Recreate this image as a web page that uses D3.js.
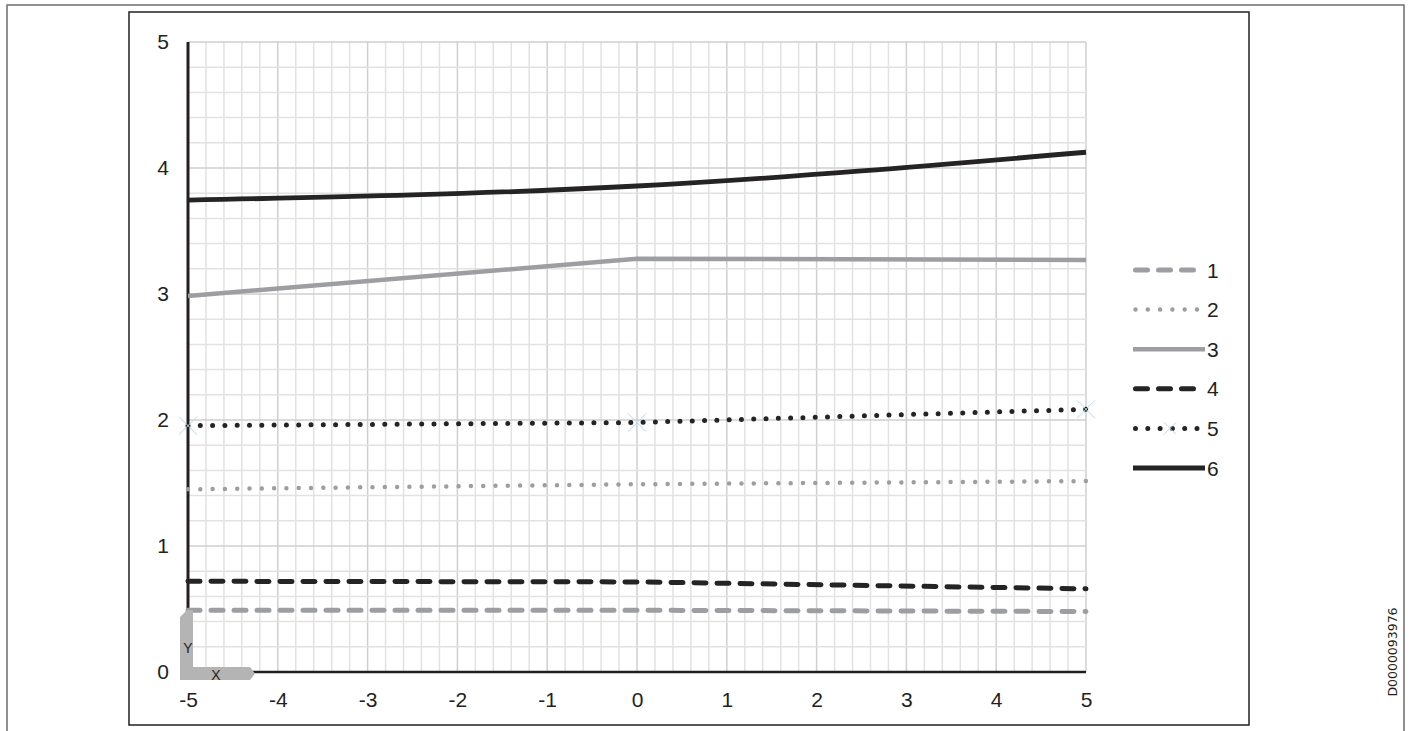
<!DOCTYPE html>
<html><head><meta charset="utf-8">
<script src="https://cdn.jsdelivr.net/npm/d3@7"></script>
<style>body{margin:0;background:#fff}svg{display:block}</style>
</head><body>
<svg id="c" width="1413" height="731"></svg>
<script>
const xValues = [-5, 0, 5];
const series1 = [0.49, 0.49, 0.48];
const series2 = [1.45, 1.49, 1.515];
const series3 = [2.985, 3.28, 3.27];
const series4 = [0.72, 0.715, 0.66];
const series5 = [1.955, 1.98, 2.085];
const series6 = [3.745, 3.857, 4.125];
const seriesNames = ["1", "2", "3", "4", "5", "6"];
const xTicks = [-5, -4, -3, -2, -1, 0, 1, 2, 3, 4, 5];
const yTicks = [0, 1, 2, 3, 4, 5];
const docCode = "D0000093976";

const allSeries = [series1, series2, series3, series4, series5, series6];
const gray = "#9d9ea1", dark = "#262324";
const styles = [
  {color: gray, dash: "12,11", w: 5, curve: d3.curveLinear},
  {color: gray, dash: "0,12.3", w: 4.5, curve: d3.curveLinear},
  {color: gray, dash: null, w: 4.5, curve: d3.curveLinear},
  {color: dark, dash: "12,11", w: 5, curve: d3.curveLinear},
  {color: dark, dash: "0,12.3", w: 5, curve: d3.curveLinear},
  {color: dark, dash: null, w: 4.8, curve: d3.curveMonotoneX}
];
const FONT = "'Liberation Sans', Arial, sans-serif";

const svg = d3.select("#c");
const x = d3.scaleLinear().domain([-5, 5]).range([188, 1086]);
const y = d3.scaleLinear().domain([0, 5]).range([672, 42]);

// frames
svg.append("path").attr("d", "M7,740V5H1404V740").attr("fill", "none").attr("stroke", "#6d6d6d").attr("stroke-width", 1.5);
svg.append("rect").attr("x", 129).attr("y", 12).attr("width", 1120).attr("height", 713)
  .attr("fill", "none").attr("stroke", "#231f20").attr("stroke-width", 1.5);

// grid
const minorX = d3.range(-5, 5.001, 0.2), minorY = d3.range(0, 5.001, 0.2);
const g = svg.append("g");
const isMajor = d => Math.abs(d - Math.round(d)) < 1e-6;
g.selectAll(".mx").data(minorX).join("line")
  .attr("x1", d => x(d)).attr("x2", d => x(d)).attr("y1", y(5)).attr("y2", y(0))
  .attr("stroke", d => isMajor(d) ? "#cfcfd0" : "#e2e2e2").attr("stroke-width", 1.5);
g.selectAll(".my").data(minorY).join("line")
  .attr("y1", d => y(d)).attr("y2", d => y(d)).attr("x1", x(-5)).attr("x2", x(5))
  .attr("stroke", d => isMajor(d) ? "#cfcfd0" : "#e2e2e2").attr("stroke-width", 1.5);

// axes
const fmt = d => String(d);
const xAxis = d3.axisBottom(x).tickValues(xTicks).tickSize(0).tickPadding(20).tickFormat(fmt);
const yAxis = d3.axisLeft(y).tickValues(yTicks).tickSize(0).tickPadding(19).tickFormat(fmt);
const gx = svg.append("g").attr("transform", `translate(0,${y(0)})`).call(xAxis);
const gy = svg.append("g").attr("transform", `translate(${x(-5)},0)`).call(yAxis);
[gx, gy].forEach(a => {
  a.select(".domain").remove();
  a.selectAll("text").style("font-family", FONT).style("font-size", "21px").attr("fill", "#231f20");
});
svg.append("line").attr("x1", x(-5)).attr("x2", x(5)).attr("y1", y(0)).attr("y2", y(0)).attr("stroke", "#231f20").attr("stroke-width", 2.5);
svg.append("line").attr("x1", x(-5)).attr("x2", x(-5)).attr("y1", y(5)).attr("y2", y(0)).attr("stroke", "#231f20").attr("stroke-width", 3);

// series lines
allSeries.forEach((s, i) => {
  const st = styles[i];
  const line = d3.line().x((d, j) => x(xValues[j])).y(d => y(d)).curve(st.curve);
  const p = svg.append("path").datum(s).attr("d", line).attr("fill", "none")
    .attr("stroke", st.color).attr("stroke-width", st.w).attr("stroke-linecap", st.dash ? "round" : "butt");
  if (st.dash) p.attr("stroke-dasharray", st.dash);
});

// markers of series 5
const cross = (cx, cy, r) => `M${cx-r},${cy-r}L${cx+r},${cy+r}M${cx-r},${cy+r}L${cx+r},${cy-r}`;
svg.selectAll(".mk").data(series5).join("path")
  .attr("d", (d, j) => cross(x(xValues[j]), y(d), 9))
  .attr("stroke", "#b5dde6").attr("stroke-width", 1).attr("fill", "none");

// L-shaped axis symbol
svg.append("path").attr("d", "M180,617L187,610H193V667H250L255,673.5L250,680H180Z").attr("fill", "#b4b4b4");
svg.append("text").attr("x", 188).attr("y", 653).attr("text-anchor", "middle")
  .style("font-family", FONT).style("font-size", "14px").attr("fill", "#231f20").text("Y");
svg.append("text").attr("x", 216).attr("y", 680).attr("text-anchor", "middle")
  .style("font-family", FONT).style("font-size", "14px").attr("fill", "#231f20").text("X");

// legend
const lg = svg.append("g");
seriesNames.forEach((n, i) => {
  const st = styles[i];
  const ly = 270 + i * 39.6;
  const l = lg.append("line").attr("x1", st.dash ? 1135.5 : 1133).attr("x2", st.dash ? 1199 : 1205).attr("y1", ly).attr("y2", ly)
    .attr("stroke", st.color).attr("stroke-width", st.w).attr("stroke-linecap", st.dash ? "round" : "butt");
  if (st.dash) l.attr("stroke-dasharray", st.dash);
  lg.append("text").attr("x", 1207).attr("y", ly + 7.5)
    .style("font-family", FONT).style("font-size", "21px").attr("fill", "#231f20").text(n);
});
lg.append("path").attr("d", cross(1170, 270 + 4 * 39.6, 6)).attr("stroke", "#b5dde6").attr("stroke-width", 1).attr("fill", "none");

// document code
svg.append("text").attr("transform", "translate(1397,652) rotate(-90)").attr("text-anchor", "middle")
  .style("font-family", "'DejaVu Sans', sans-serif").style("font-size", "12.5px").attr("fill", "#231f20").text(docCode);
</script>
</body></html>
